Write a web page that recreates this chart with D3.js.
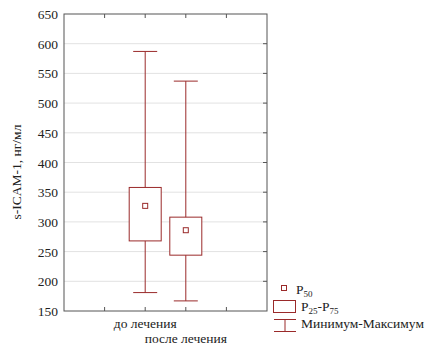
<!DOCTYPE html>
<html>
<head>
<meta charset="utf-8">
<script src="https://cdn.jsdelivr.net/npm/d3@7"></script>
<style>
  body { margin: 0; background: #fff; }
  text { font-family: "Liberation Serif", "Times New Roman", serif; fill: #222; }
</style>
</head>
<body>
<div id="container"></div>
<script>
let w = 433;
let h = 354;

// data
let groups = ["до лечения", "после лечения"];
let minVals = [181, 167];
let q25Vals = [268, 244];
let medVals = [327, 286];
let q75Vals = [358, 308];
let maxVals = [587, 537];
let yTicks = [150, 200, 250, 300, 350, 400, 450, 500, 550, 600, 650];

let red = "#9a2a2a";
let plotL = 64, plotR = 267, plotT = 14, plotB = 311;

let viz = d3.select("#container").append("svg")
    .attr("width", w)
    .attr("height", h);

// scales
let xScale = d3.scaleLinear().domain([0, 5]).range([plotL, plotR]);
let yScale = d3.scaleLinear().domain([150, 650]).range([plotB, plotT]);

// grid
viz.selectAll(".grid").data(yTicks.slice(1, -1)).enter()
  .append("line")
    .attr("x1", plotL).attr("x2", plotR)
    .attr("y1", d => yScale(d)).attr("y2", d => yScale(d))
    .attr("stroke", "#e2e2e2");

// frame
viz.append("rect")
  .attr("x", plotL).attr("y", plotT)
  .attr("width", plotR - plotL).attr("height", plotB - plotT)
  .attr("fill", "none").attr("stroke", "#555");

// inside ticks
let xt = [1, 2, 3, 4];
viz.selectAll(".xtb").data(xt).enter().append("line")
  .attr("x1", d => xScale(d)).attr("x2", d => xScale(d))
  .attr("y1", plotB).attr("y2", plotB - 4).attr("stroke", "#555");
viz.selectAll(".xtt").data(xt).enter().append("line")
  .attr("x1", d => xScale(d)).attr("x2", d => xScale(d))
  .attr("y1", plotT).attr("y2", plotT + 4).attr("stroke", "#555");
viz.selectAll(".ytr").data(yTicks.slice(1, -1)).enter().append("line")
  .attr("x1", plotR).attr("x2", plotR - 4)
  .attr("y1", d => yScale(d)).attr("y2", d => yScale(d)).attr("stroke", "#555");

// y labels
viz.selectAll(".ylab").data(yTicks).enter().append("text")
  .attr("x", plotL - 6)
  .attr("y", d => yScale(d) + 5)
  .attr("text-anchor", "end")
  .attr("font-size", 13.5)
  .text(d => d);

// y title
viz.append("text")
  .attr("transform", "translate(21," + 172 + ") rotate(-90)")
  .attr("text-anchor", "middle")
  .attr("font-size", 13.5)
  .text("s-ICAM-1, нг/мл");

// x labels (staggered)
viz.selectAll(".xlab").data(groups).enter().append("text")
  .attr("x", (d, i) => xScale(i + 2))
  .attr("y", (d, i) => i == 0 ? 328 : 343)
  .attr("text-anchor", "middle")
  .attr("font-size", 13.5)
  .text(d => d);

// boxes
let boxW = 32, capW = 24;
groups.forEach(function(g, i) {
  let cx = xScale(i + 2);
  viz.append("line")
    .attr("x1", cx).attr("x2", cx)
    .attr("y1", yScale(minVals[i])).attr("y2", yScale(maxVals[i]))
    .attr("stroke", red);
  [minVals[i], maxVals[i]].forEach(function(v) {
    viz.append("line")
      .attr("x1", cx - capW / 2).attr("x2", cx + capW / 2)
      .attr("y1", yScale(v)).attr("y2", yScale(v))
      .attr("stroke", red);
  });
  viz.append("rect")
    .attr("x", cx - boxW / 2).attr("y", yScale(q75Vals[i]))
    .attr("width", boxW).attr("height", yScale(q25Vals[i]) - yScale(q75Vals[i]))
    .attr("fill", "#fff").attr("stroke", red);
  viz.append("rect")
    .attr("x", cx - 2.5).attr("y", yScale(medVals[i]) - 2.5)
    .attr("width", 5).attr("height", 5)
    .attr("fill", "#fff").attr("stroke", red);
});

// legend
let lg = viz.append("g");
lg.append("rect").attr("x", 281.5).attr("y", 285.5).attr("width", 5).attr("height", 5)
  .attr("fill", "#fff").attr("stroke", red);
let t1 = lg.append("text").attr("x", 296).attr("y", 294).attr("font-size", 13.5);
t1.append("tspan").text("P");
t1.append("tspan").attr("font-size", 9).attr("dy", 3).text("50");

lg.append("rect").attr("x", 273.5).attr("y", 300.5).attr("width", 22).attr("height", 12)
  .attr("fill", "#fff").attr("stroke", red);
let t2 = lg.append("text").attr("x", 301).attr("y", 311).attr("font-size", 13.5);
t2.append("tspan").text("P");
t2.append("tspan").attr("font-size", 9).attr("dy", 3).text("25");
t2.append("tspan").attr("dy", -3).text("-P");
t2.append("tspan").attr("font-size", 9).attr("dy", 3).text("75");

lg.append("line").attr("x1", 274).attr("x2", 296).attr("y1", 319.5).attr("y2", 319.5).attr("stroke", red);
lg.append("line").attr("x1", 285).attr("x2", 285).attr("y1", 319.5).attr("y2", 331).attr("stroke", red);
lg.append("line").attr("x1", 274).attr("x2", 296).attr("y1", 331.5).attr("y2", 331.5).attr("stroke", red);
lg.append("text").attr("x", 301).attr("y", 328).attr("font-size", 13.5).text("Минимум-Максимум");
</script>
</body>
</html>
